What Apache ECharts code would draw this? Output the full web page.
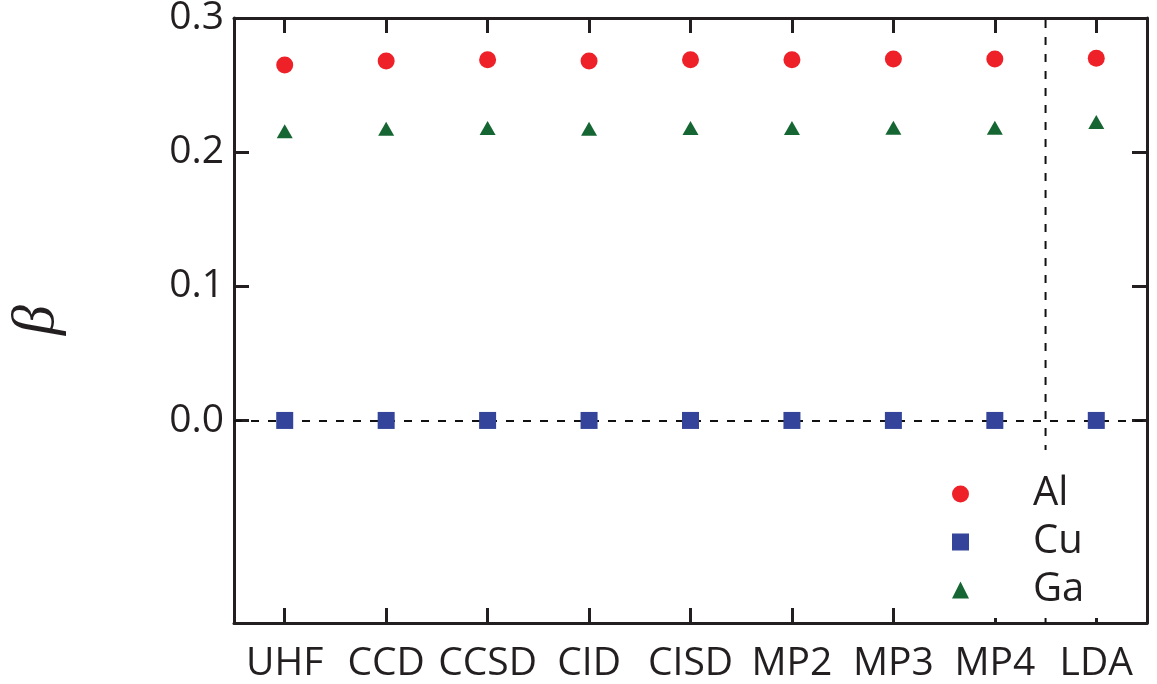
<!DOCTYPE html>
<html>
<head>
<meta charset="utf-8">
<script src="https://cdn.jsdelivr.net/npm/echarts@6/dist/echarts.min.js"></script>
<style>
  html, body { margin: 0; padding: 0; background: #fff; }
  #main { width: 1157px; height: 684px; }
</style>
</head>
<body>
<div id="main"></div>
<script>
// methods along the x axis
const methods = ['UHF', 'CCD', 'CCSD', 'CID', 'CISD', 'MP2', 'MP3', 'MP4', 'LDA'];

// beta values
const alValues = [0.265, 0.268, 0.2688, 0.268, 0.2688, 0.2688, 0.2695, 0.2695, 0.270];
const cuValues = [0, 0, 0, 0, 0, 0, 0, 0, 0];
const gaValues = [0.2155, 0.2175, 0.218, 0.2175, 0.218, 0.218, 0.2182, 0.2182, 0.2225];

const yTicks = [0, 0.1, 0.2, 0.3];
const yMin = -0.151;
const yMax = 0.3;

// separator between the wavefunction methods and LDA
const splitAt = 7.5;

const axisColor = '#231f20';
const textColor = '#231f20';
const font = 'Open Sans';

const myChart = echarts.init(document.getElementById('main'));

const tickStyle = { show: true, inside: true, length: 15, interval: 0, lineStyle: { color: axisColor, width: 3 } };
const lineStyle = { onZero: false, lineStyle: { color: axisColor, width: 3 } };
const dashed = { color: '#111', type: [8, 9], width: 2 };

const option = {
  animation: false,
  textStyle: { fontFamily: font },
  grid: { left: 234, right: 10, top: 18, bottom: 61, outerBoundsMode: 'none', containLabel: false },
  // axis title, turned like the y axis
  graphic: [
    {
      type: 'group',
      x: 37,
      y: 320,
      rotation: Math.PI / 2,
      children: [
        {
          type: 'text',
          x: 0,
          y: 0,
          style: {
            text: 'β',
            font: 'italic 60px "Liberation Serif"',
            fill: textColor,
            align: 'center',
            verticalAlign: 'middle',
          },
        },
      ],
    },
  ],
  // white legend box hides the lower part of the separator, like the original
  legend: {
    orient: 'vertical',
    left: 936,
    top: 450,
    padding: [24, 30, 8, 16],
    backgroundColor: '#fff',
    z: 4,
    itemWidth: 17,
    itemHeight: 17,
    itemGap: 8,
    textStyle: { fontFamily: font, fontSize: 40, color: textColor, lineHeight: 40, padding: [0, 0, 0, 59] },
    data: [
      { name: 'Al', icon: 'circle' },
      { name: 'Cu', icon: 'rect' },
      { name: 'Ga', icon: 'triangle' },
    ],
  },
  xAxis: [
    {
      type: 'category',
      data: methods,
      position: 'bottom',
      boundaryGap: true,
      axisLine: { ...lineStyle },
      axisTick: { ...tickStyle, alignWithLabel: true },
      axisLabel: { interval: 0, fontSize: 39, color: textColor, margin: 21, fontFamily: font },
      splitLine: { show: false },
    },
    {
      type: 'category',
      data: methods,
      position: 'top',
      boundaryGap: true,
      axisLine: { ...lineStyle },
      axisTick: { ...tickStyle, alignWithLabel: true },
      axisLabel: { show: false },
      splitLine: { show: false },
    },
    {
      // hidden value axis for the vertical separator
      type: 'value',
      min: -0.5,
      max: methods.length - 0.5,
      show: false,
      axisLine: { onZero: false },
    },
  ],
  yAxis: [
    {
      type: 'value',
      min: yMin,
      max: yMax,
      axisLine: { show: true, ...lineStyle },
      axisTick: { ...tickStyle, customValues: yTicks },
      axisLabel: {
        fontSize: 39, color: textColor, margin: 10, fontFamily: font,
        customValues: yTicks,
        formatter: (v) => v.toFixed(1),
      },
      splitLine: { show: false },
    },
    {
      type: 'value',
      min: yMin,
      max: yMax,
      position: 'right',
      axisLine: { show: true, ...lineStyle },
      axisTick: { ...tickStyle, customValues: yTicks },
      axisLabel: { show: false },
      splitLine: { show: false },
    },
  ],
  series: [
    {
      name: 'Al',
      type: 'scatter',
      symbol: 'circle',
      symbolSize: 17,
      itemStyle: { color: '#ee2028', opacity: 1 },
      data: alValues,
      z: 5,
    },
    {
      name: 'Cu',
      type: 'scatter',
      symbol: 'rect',
      symbolSize: 17,
      itemStyle: { color: '#33449a', opacity: 1 },
      data: cuValues,
      z: 5,
      markLine: {
        silent: true,
        symbol: 'none',
        label: { show: false },
        lineStyle: dashed,
        data: [{ yAxis: 0 }],
        z: 3,
      },
    },
    {
      name: 'Ga',
      type: 'scatter',
      symbol: 'triangle',
      symbolSize: [16, 14],
      itemStyle: { color: '#166633', opacity: 1 },
      data: gaValues,
      z: 5,
    },
    {
      name: 'split',
      type: 'line',
      xAxisIndex: 2,
      showSymbol: false,
      silent: true,
      lineStyle: dashed,
      data: [[splitAt, yMin], [splitAt, yMax]],
      z: 2,
    },
  ],
};

myChart.setOption(option);
</script>
</body>
</html>
